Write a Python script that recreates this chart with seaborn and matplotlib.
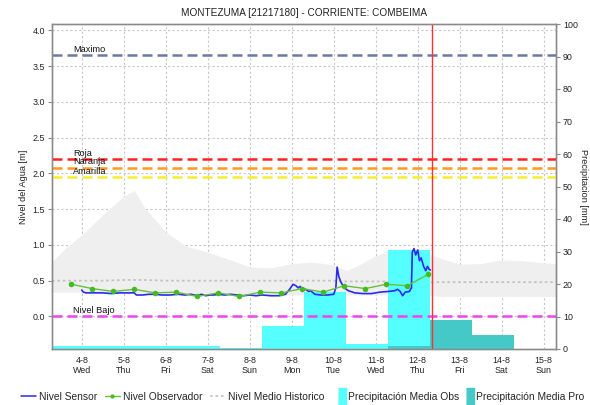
import numpy as np
import pandas as pd
import matplotlib
matplotlib.use("Agg")
import matplotlib.pyplot as plt
from matplotlib.lines import Line2D
import seaborn as sns

# ---- data (day of August 2021, fractional days) ----
sensor_t = [4.00, 4.04, 4.10, 4.30, 4.50, 4.70, 4.90, 5.00, 5.15, 5.25, 5.30, 5.45,
            5.60, 5.75, 5.90, 6.10, 6.30, 6.45, 6.60, 6.75, 6.85, 6.95, 7.05, 7.15,
            7.25, 7.40, 7.55, 7.70, 7.85, 8.00, 8.15, 8.30, 8.50, 8.70, 8.85, 8.95,
            9.03, 9.10, 9.15, 9.20, 9.27, 9.33, 9.40, 9.45, 9.55, 9.70, 9.85, 10.00,
            10.05, 10.08, 10.12, 10.17, 10.25, 10.35, 10.50, 10.70, 10.90, 11.10,
            11.30, 11.45, 11.52, 11.58, 11.64, 11.70, 11.80, 11.85, 11.87, 11.91,
            11.95, 12.00, 12.04, 12.08, 12.14, 12.19, 12.23, 12.27, 12.30]
sensor_v = [0.37, 0.34, 0.33, 0.33, 0.33, 0.32, 0.33, 0.33, 0.33, 0.33, 0.30, 0.30,
            0.31, 0.31, 0.30, 0.30, 0.31, 0.30, 0.31, 0.29, 0.31, 0.29, 0.30, 0.30,
            0.31, 0.30, 0.31, 0.30, 0.29, 0.30, 0.29, 0.30, 0.29, 0.29, 0.31, 0.38,
            0.45, 0.43, 0.40, 0.42, 0.37, 0.38, 0.35, 0.36, 0.31, 0.30, 0.30, 0.31,
            0.40, 0.69, 0.56, 0.48, 0.40, 0.36, 0.33, 0.32, 0.32, 0.34,
            0.35, 0.36, 0.38, 0.35, 0.29, 0.34, 0.35, 0.40, 0.90, 0.95,
            0.86, 0.93, 0.78, 0.82, 0.70, 0.64, 0.70, 0.66, 0.65]

obs_t = [3.75, 4.25, 4.75, 5.25, 5.75, 6.25, 6.75, 7.25, 7.75, 8.25, 8.75, 9.25,
         9.75, 10.25, 10.75, 11.25, 11.75, 12.25]
obs_v = [0.45, 0.39, 0.35, 0.38, 0.33, 0.34, 0.28, 0.33, 0.28, 0.34, 0.33, 0.39,
         0.34, 0.43, 0.39, 0.45, 0.43, 0.59]

hist_t = [3.29, 3.6, 4.0, 4.5, 5.0, 5.25, 5.5, 6.0, 6.5, 7.0, 7.5, 8.0, 8.5, 9.0,
          9.5, 10.0, 10.3, 10.6, 11.0, 11.3, 11.6, 12.0, 12.3, 12.6, 13.0, 13.5,
          14.0, 14.5, 15.0, 15.29]
hist_max = [0.76, 0.95, 1.14, 1.42, 1.68, 1.76, 1.52, 1.18, 0.98, 0.90, 0.80, 0.69,
            0.68, 0.74, 0.76, 0.72, 0.64, 0.72, 0.85, 0.92, 0.93, 0.93, 0.87, 0.80,
            0.73, 0.74, 0.79, 0.78, 0.75, 0.74]
hist_min = [0.34, 0.34, 0.34, 0.33, 0.33, 0.33, 0.32, 0.32, 0.31, 0.31, 0.31, 0.31,
            0.30, 0.30, 0.30, 0.30, 0.30, 0.30, 0.30, 0.30, 0.30, 0.30, 0.29, 0.28,
            0.28, 0.28, 0.28, 0.28, 0.28, 0.28]
hist_mean = [0.50, 0.50, 0.50, 0.50, 0.51, 0.51, 0.51, 0.50, 0.50, 0.50, 0.50, 0.50,
             0.50, 0.50, 0.50, 0.50, 0.49, 0.49, 0.49, 0.49, 0.49, 0.49, 0.48, 0.48,
             0.48, 0.48, 0.48, 0.48, 0.48, 0.48]

# daily rainfall, each value closes at 07:00 of its day
precip_obs_day = [4, 5, 6, 7, 8, 9, 10, 11, 12]
precip_obs_mm = [1.0, 1.0, 1.0, 1.0, 0.3, 7.0, 17.5, 1.5, 30.5]
precip_pro_day = [12, 13, 14]
precip_pro_mm = [0.8, 9.0, 4.4]

thresholds = {"Maximo": 3.65, "Roja": 2.20, "Naranja": 2.08, "Amarilla": 1.95,
              "Nivel Bajo": 0.0}
threshold_colors = {"Maximo": "#6a7aa8", "Roja": "#ff2222", "Naranja": "#ff9a22",
                    "Amarilla": "#f4ee30", "Nivel Bajo": "#ee44ee"}

tick_days = list(range(4, 16))
tick_labels = ["4-8\nWed", "5-8\nThu", "6-8\nFri", "7-8\nSat", "8-8\nSun", "9-8\nMon",
               "10-8\nTue", "11-8\nWed", "12-8\nThu", "13-8\nFri", "14-8\nSat", "15-8\nSun"]
now_day = 12.34

# ---- style ----
sns.set_theme(style="white")
plt.rcParams["font.family"] = ["Liberation Sans", "DejaVu Sans"]
plt.rcParams["font.size"] = 6.5

fig = plt.figure(figsize=(5.9, 4.05), dpi=100)
pos = [52 / 590, 1 - 349 / 405, 504 / 590, 325 / 405]
ax_bg = fig.add_axes(pos)          # historic band + grid
ax_p = ax_bg.twinx()               # precipitation (right axis)
ax = ax_bg.twinx()                 # water level lines on top
ax_bg.set_zorder(0)
ax_p.set_zorder(1)
ax.set_zorder(2)
ax_p.patch.set_visible(False)
ax.patch.set_visible(False)

xmin, xmax = 3 + 7 / 24, 15 + 7 / 24
ylim = (-0.455, 4.09)
grey = "#8a8a8a"
txt = "#222222"
tick_fs = 6.4

# historic band and mean
ax_bg.fill_between(hist_t, hist_min, hist_max, color="#efefef", lw=0)
ax_bg.plot(hist_t, hist_mean, color="#c4c4c4", lw=1.3, ls=(0, (1.5, 1.5)))
ax_bg.set_xlim(xmin, xmax)
ax_bg.set_ylim(*ylim)
ax_bg.set_yticks(np.arange(0, 4.01, 0.5))
ax_bg.set_yticklabels([f"{v:.1f}" for v in np.arange(0, 4.01, 0.5)])
ax_bg.set_xticks(tick_days)
ax_bg.set_xticklabels(tick_labels)
ax_bg.set_xticks(np.arange(np.ceil(xmin * 24), xmax * 24) / 24, minor=True)
ax_bg.grid(True, which="major", color="#c8c8c8", ls=(0, (2, 2)), lw=0.8)
ax_bg.tick_params(axis="both", which="major", length=3, width=0.8, color=grey,
                  labelsize=tick_fs, pad=2, labelcolor=txt)
ax_bg.tick_params(axis="x", which="minor", length=2, width=0.6, color="#555555")
ax_bg.set_ylabel("Nivel del Agua [m]", fontsize=6.6, color=txt, labelpad=3)

# precipitation bars
ax_p.bar([d - 1 + 7 / 24 for d in precip_obs_day], precip_obs_mm, width=1.0,
         align="edge", color="#55ffff", lw=0)
ax_p.bar([d - 1 + 7 / 24 for d in precip_pro_day], precip_pro_mm, width=1.0,
         align="edge", color="#44c8c8", lw=0)
ax_p.set_ylim(0, 100)
ax_p.set_yticks(range(0, 101, 10))
ax_p.tick_params(axis="y", length=3, width=0.8, color=grey, labelsize=tick_fs, pad=2,
                 labelcolor=txt)
ax_p.set_ylabel("Precipitacion [mm]", rotation=270, fontsize=6.6, color=txt,
                labelpad=7)

# level lines
ax.set_ylim(*ylim)
ax.set_xlim(xmin, xmax)
ax.set_yticks([])
for name, val in thresholds.items():
    ax.axhline(val, color=threshold_colors[name], lw=1.8, ls=(0, (4, 2)))
    ax.text(3.79, val + 0.02, name, fontsize=6.6, color="#111111", va="bottom",
            ha="left")

sensor_df = pd.DataFrame({"t": sensor_t, "v": sensor_v})
obs_df = pd.DataFrame({"t": obs_t, "v": obs_v})
sns.lineplot(data=sensor_df, x="t", y="v", ax=ax, color="#2a2af0", lw=1.2,
             estimator=None, sort=False)
sns.lineplot(data=obs_df, x="t", y="v", ax=ax, color="#66c040", lw=1.0,
             marker="o", markersize=4, markeredgewidth=0, markerfacecolor="#44bb22",
             estimator=None, sort=False)
ax.axvline(now_day, color="#ff3030", lw=1.0)
ax.set_xlabel("")
ax.set_ylabel("")

for a in (ax_bg, ax_p, ax):
    for s in a.spines.values():
        s.set_color(grey)
        s.set_linewidth(0.9)

ax_bg.set_title("MONTEZUMA [21217180] - CORRIENTE: COMBEIMA", fontsize=7.2,
                color=txt, pad=6)

leg_y = 1 - 397 / 405
leg_fs = 7.4

# legend: level series
line_handles = [
    Line2D([], [], color="#2a2af0", lw=1.1),
    Line2D([], [], color="#66c040", lw=1.0, marker="o", markersize=3,
           markerfacecolor="#44bb22", markeredgewidth=0),
    Line2D([], [], color="#c8c8c8", lw=1.3, ls=(0, (1.5, 1.5))),
]
line_labels = ["Nivel Sensor", "Nivel Observador", "Nivel Medio Historico"]
fig.legend(line_handles, line_labels, loc="center left",
           bbox_to_anchor=(21 / 590, leg_y), ncol=3, frameon=False,
           fontsize=leg_fs, handlelength=1.45, handletextpad=0.3, columnspacing=0.75,
           borderaxespad=0, borderpad=0)

# legend: rainfall series
bar_marker = [(-0.25, -0.5), (0.25, -0.5), (0.25, 0.5), (-0.25, 0.5)]
bar_handles = [
    Line2D([], [], ls="none", marker=bar_marker, markersize=12, color="#55ffff"),
    Line2D([], [], ls="none", marker=bar_marker, markersize=12, color="#44c8c8"),
]
bar_labels = ["Precipitación Media Obs", "Precipitación Media Pro"]
fig.legend(bar_handles, bar_labels, loc="center left",
           bbox_to_anchor=(339 / 590, leg_y), ncol=2, frameon=False,
           fontsize=leg_fs, handlelength=0.6, handletextpad=0.3, columnspacing=0.7,
           borderaxespad=0, borderpad=0)

fig.savefig("out.png", dpi=100)
